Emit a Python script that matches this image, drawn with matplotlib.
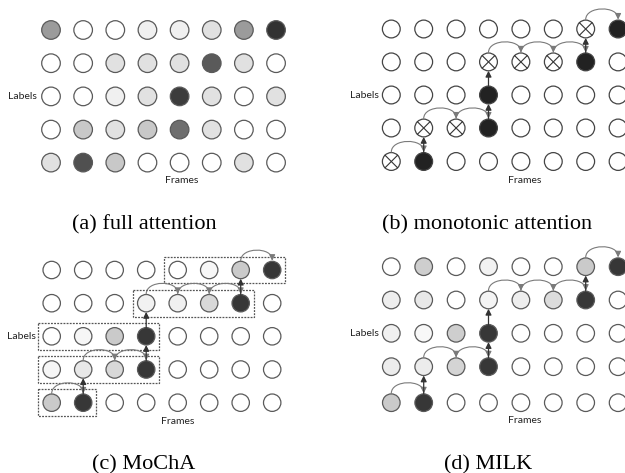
import matplotlib
matplotlib.use("Agg")
import matplotlib.pyplot as plt
from matplotlib.patches import Circle, FancyArrowPatch, Rectangle
from matplotlib.path import Path

# ---------------- data ----------------
captions = ["(a) full attention", "(b) monotonic attention", "(c) MoChA", "(d) MILK"]
axis_labels = ["Labels", "Frames"]

# grey level of each circle (255 = white), rows from top to bottom
full_attention = [
    [155, 255, 255, 240, 240, 225, 155, 50],
    [255, 255, 225, 225, 225, 90, 225, 255],
    [255, 255, 240, 225, 60, 225, 255, 225],
    [255, 200, 225, 200, 110, 225, 255, 255],
    [225, 80, 200, 255, 255, 255, 225, 255],
]
# o = not attended, x = inspected and skipped, k = selected
monotonic = ["ooooooxk", "oooxxxko", "oookoooo", "oxxkoooo", "xkoooooo"]
mocha = [
    [255, 255, 255, 255, 255, 246, 202, 55],
    [255, 255, 255, 242, 240, 216, 55, 255],
    [255, 246, 202, 55, 255, 255, 255, 255],
    [246, 232, 216, 55, 255, 255, 255, 255],
    [202, 55, 255, 255, 255, 255, 255, 255],
]
milk = [
    [255, 206, 255, 242, 255, 255, 202, 55],
    [238, 232, 255, 244, 238, 220, 55, 255],
    [240, 248, 206, 55, 255, 255, 255, 255],
    [236, 236, 212, 55, 255, 255, 255, 255],
    [202, 55, 255, 255, 255, 255, 255, 255],
]
# monotonic path through (row, col)
path_steps = [(4, 0), (4, 1), (3, 1), (3, 2), (3, 3), (2, 3), (1, 3),
              (1, 4), (1, 5), (1, 6), (0, 6), (0, 7)]
# MoChA chunks: (row, first col, last col)
chunks = [(0, 4, 7), (1, 3, 6), (2, 0, 3), (3, 0, 3), (4, 0, 1)]

# ---------------- layout ----------------
W, H = 625, 473
fig = plt.figure(figsize=(W / 100, H / 100), dpi=100)
ax = fig.add_axes([0, 0, 1, 1])
ax.set_xlim(0, W)
ax.set_ylim(H, 0)
ax.axis("off")

panels = [
    dict(x0=51.0, dx=32.15, rows=[30, 63.2, 96.4, 129.6, 162.6], r=9.3,
         lab=(37, 96.4), frm=(181.7, 180), cap=(144, 229)),
    dict(x0=391.3, dx=32.4, rows=[29, 61.9, 95, 128, 161.5], r=8.9,
         lab=(379, 95), frm=(524.7, 180), cap=(487, 229)),
    dict(x0=51.7, dx=31.5, rows=[270, 303.2, 336.3, 369.5, 402.7], r=8.7,
         lab=(36, 336.3), frm=(177.3, 421), cap=(144, 469)),
    dict(x0=391.3, dx=32.4, rows=[266.7, 300, 333.3, 366.7, 402.7], r=8.8,
         lab=(379, 333.3), frm=(524.7, 420.7), cap=(488, 469)),
]

EDGE = "#5a5a5a"
SANS = ["Lato", "DejaVu Sans"]
SERIF = ["Liberation Serif", "DejaVu Serif"]


def pos(p, row, col):
    return p["x0"] + col * p["dx"], p["rows"][row]


def grey(v):
    return (v / 255.0,) * 3


def draw_grid(p, levels):
    for i, row in enumerate(levels):
        for j, v in enumerate(row):
            x, y = pos(p, i, j)
            ax.add_patch(Circle((x, y), p["r"], facecolor=grey(v),
                                edgecolor=EDGE, lw=0.9, zorder=3))


def draw_states(p, states):
    for i, row in enumerate(states):
        for j, s in enumerate(row):
            x, y = pos(p, i, j)
            fc = "#222222" if s == "k" else "white"
            ax.add_patch(Circle((x, y), p["r"], facecolor=fc,
                                edgecolor="#444444", lw=0.9, zorder=3))
            if s == "x":
                d = p["r"] * 0.7071
                ax.plot([x - d, x + d], [y - d, y + d], color="#333333", lw=0.8, zorder=4)
                ax.plot([x - d, x + d], [y + d, y - d], color="#333333", lw=0.8, zorder=4)


def draw_path(p):
    r = p["r"]
    for (r1, c1), (r2, c2) in zip(path_steps[:-1], path_steps[1:]):
        x1, y1 = pos(p, r1, c1)
        x2, y2 = pos(p, r2, c2)
        if r1 == r2:  # arc over the top
            yt = y1 - r - 0.5
            h = 14
            verts = [(x1, yt), (x1, yt - h), (x2, yt - h), (x2, yt)]
            codes = [Path.MOVETO, Path.CURVE4, Path.CURVE4, Path.CURVE4]
            a = FancyArrowPatch(path=Path(verts, codes),
                                arrowstyle="-|>,head_length=0.5,head_width=0.25",
                                mutation_scale=7, color="#7a7a7a", lw=0.8,
                                shrinkA=0, shrinkB=0, zorder=5)
        else:  # straight up
            a = FancyArrowPatch((x1, y1 - r), (x2, y2 + r),
                                arrowstyle="-|>,head_length=0.5,head_width=0.25",
                                mutation_scale=7, color="#333333", lw=0.9,
                                shrinkA=0, shrinkB=0, zorder=5)
        ax.add_patch(a)


def draw_chunks(p):
    r = p["r"]
    for row, c0, c1 in chunks:
        xa, y = pos(p, row, c0)
        xb, _ = pos(p, row, c1)
        left = xa - r - 5
        right = xb + r + 4.5
        ax.add_patch(Rectangle((left, y - 13.3), right - left, 26.6, fill=False,
                               edgecolor="#555555", lw=0.9,
                               linestyle=(0, (1.5, 1.0)), zorder=2))


draw_grid(panels[0], full_attention)
draw_states(panels[1], monotonic)
draw_path(panels[1])
draw_grid(panels[2], mocha)
draw_chunks(panels[2])
draw_path(panels[2])
draw_grid(panels[3], milk)
draw_path(panels[3])

for p, cap in zip(panels, captions):
    ax.text(p["lab"][0], p["lab"][1], axis_labels[0], ha="right", va="center",
            fontsize=7.5, family=SANS, color="#222222")
    ax.text(p["frm"][0], p["frm"][1], axis_labels[1], ha="center", va="center",
            fontsize=7.5, family=SANS, color="#222222")
    ax.text(p["cap"][0], p["cap"][1], cap, ha="center", va="baseline",
            fontsize=16, family=SERIF, color="black")

fig.savefig("out.png", dpi=100)
